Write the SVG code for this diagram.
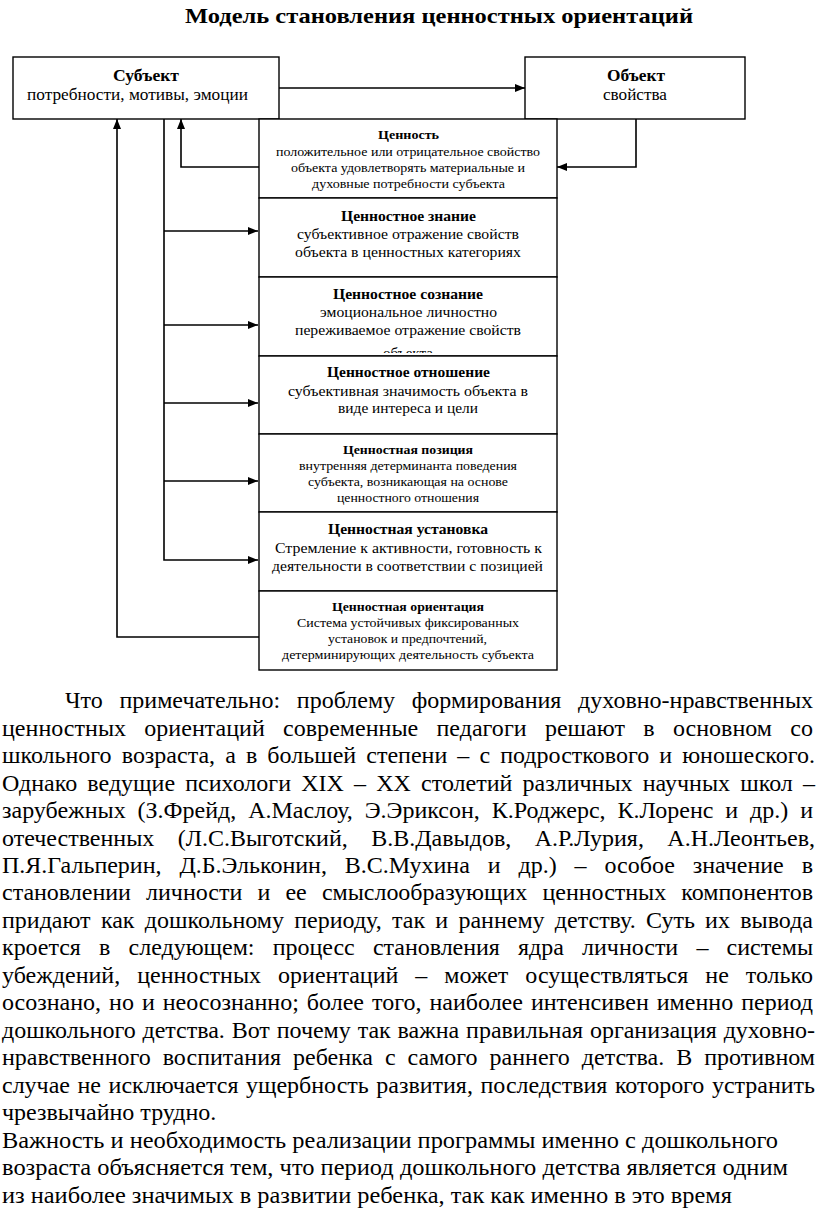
<svg xmlns="http://www.w3.org/2000/svg" width="816" height="1221" viewBox="0 0 816 1221">
<style>
.box{fill:#fff;stroke:#000;stroke-width:1.4}
.t{font-family:"Liberation Serif","Times New Roman",serif;fill:#000}
.b{font-weight:bold}
.s17{font-size:17px}
.s14{font-size:14.5px}
.s13{font-size:13px}
.conn{fill:none;stroke:#000;stroke-width:1.6}
.p{font-family:"Liberation Serif","Times New Roman",serif;font-size:24px;fill:#000}
</style>
<defs>
<marker id="arr" viewBox="0 0 10 8" refX="10" refY="4" markerWidth="10" markerHeight="8" markerUnits="userSpaceOnUse" orient="auto"><path d="M0,0 L10,4 L0,8 z" fill="#000"/></marker>
<clipPath id="cut"><rect x="259" y="277" width="298" height="76"/></clipPath>
</defs>

<text class="t b" x="185" y="23" font-size="22" textLength="508" lengthAdjust="spacingAndGlyphs">Модель становления ценностных ориентаций</text>

<g id="connectors">
<path class="conn" d="M279,88 H525" marker-end="url(#arr)"/>
<path class="conn" d="M636,119 V167 H557" marker-end="url(#arr)"/>
<path class="conn" d="M259,167 H181 V119" marker-end="url(#arr)"/>
<path class="conn" d="M259,637 H117 V119" marker-end="url(#arr)"/>
<path class="conn" d="M164,119 V560 H258" marker-end="url(#arr)"/>
<path class="conn" d="M164,231 H258" marker-end="url(#arr)"/>
<path class="conn" d="M164,325 H258" marker-end="url(#arr)"/>
<path class="conn" d="M164,403 H258" marker-end="url(#arr)"/>
<path class="conn" d="M164,481 H258" marker-end="url(#arr)"/>
</g>

<g id="subject">
<rect class="box" x="13" y="57" width="266" height="62"/>
<text class="t b s17" x="113" y="81" textLength="66" lengthAdjust="spacingAndGlyphs">Субъект</text>
<text class="t s17" x="27" y="100" textLength="221" lengthAdjust="spacingAndGlyphs">потребности, мотивы, эмоции</text>
</g>

<g id="object">
<rect class="box" x="525" y="57" width="220" height="62"/>
<text class="t b s17" x="607" y="81" textLength="58" lengthAdjust="spacingAndGlyphs">Объект</text>
<text class="t s17" x="603" y="100" textLength="64" lengthAdjust="spacingAndGlyphs">свойства</text>
</g>

<g id="value">
<rect class="box" x="259" y="119" width="298" height="79"/>
<text class="t b s13" x="378" y="139" textLength="61" lengthAdjust="spacingAndGlyphs">Ценность</text>
<text class="t s13" x="276" y="156" textLength="264" lengthAdjust="spacingAndGlyphs">положительное или отрицательное свойство</text>
<text class="t s13" x="291" y="172" textLength="234" lengthAdjust="spacingAndGlyphs">объекта удовлетворять материальные и</text>
<text class="t s13" x="312" y="188" textLength="193" lengthAdjust="spacingAndGlyphs">духовные потребности субъекта</text>
</g>

<g id="value-knowledge">
<rect class="box" x="259" y="198" width="298" height="79"/>
<text class="t b s14" x="341" y="221" textLength="135" lengthAdjust="spacingAndGlyphs">Ценностное знание</text>
<text class="t s14" x="297" y="239" textLength="222" lengthAdjust="spacingAndGlyphs">субъективное отражение свойств</text>
<text class="t s14" x="295" y="257" textLength="226" lengthAdjust="spacingAndGlyphs">объекта в ценностных категориях</text>
</g>

<g id="value-consciousness">
<rect class="box" x="259" y="277" width="298" height="79"/>
<text class="t b s14" x="333" y="299" textLength="150" lengthAdjust="spacingAndGlyphs">Ценностное сознание</text>
<text class="t s14" x="320" y="317" textLength="177" lengthAdjust="spacingAndGlyphs">эмоциональное личностно</text>
<text class="t s14" x="295" y="335" textLength="226" lengthAdjust="spacingAndGlyphs">переживаемое отражение свойств</text>
<text class="t s14" x="383" y="358" textLength="50" lengthAdjust="spacingAndGlyphs" clip-path="url(#cut)">объекта</text>
</g>

<g id="value-attitude">
<rect class="box" x="259" y="356" width="298" height="78"/>
<text class="t b s14" x="327" y="377" textLength="163" lengthAdjust="spacingAndGlyphs">Ценностное отношение</text>
<text class="t s14" x="288" y="396" textLength="240" lengthAdjust="spacingAndGlyphs">субъективная значимость объекта в</text>
<text class="t s14" x="338" y="413" textLength="140" lengthAdjust="spacingAndGlyphs">виде интереса и цели</text>
</g>

<g id="value-position">
<rect class="box" x="259" y="434" width="298" height="78"/>
<text class="t b s13" x="343" y="454" textLength="130" lengthAdjust="spacingAndGlyphs">Ценностная позиция</text>
<text class="t s13" x="299" y="470" textLength="218" lengthAdjust="spacingAndGlyphs">внутренняя детерминанта поведения</text>
<text class="t s13" x="308" y="486" textLength="200" lengthAdjust="spacingAndGlyphs">субъекта, возникающая на основе</text>
<text class="t s13" x="337" y="502" textLength="142" lengthAdjust="spacingAndGlyphs">ценностного отношения</text>
</g>

<g id="value-set">
<rect class="box" x="259" y="512" width="298" height="79"/>
<text class="t b s14" x="328" y="534" textLength="160" lengthAdjust="spacingAndGlyphs">Ценностная установка</text>
<text class="t s14" x="275" y="553" textLength="267" lengthAdjust="spacingAndGlyphs">Стремление к активности, готовность к</text>
<text class="t s14" x="272" y="571" textLength="271" lengthAdjust="spacingAndGlyphs">деятельности в соответствии с позицией</text>
</g>

<g id="value-orientation">
<rect class="box" x="259" y="591" width="298" height="79"/>
<text class="t b s13" x="332" y="611" textLength="152" lengthAdjust="spacingAndGlyphs">Ценностная ориентация</text>
<text class="t s13" x="297" y="627" textLength="222" lengthAdjust="spacingAndGlyphs">Система устойчивых фиксированных</text>
<text class="t s13" x="328" y="643" textLength="159" lengthAdjust="spacingAndGlyphs">установок и предпочтений,</text>
<text class="t s13" x="282" y="659" textLength="252" lengthAdjust="spacingAndGlyphs">детерминирующих деятельность субъекта</text>
</g>

<g id="paragraph">
<text class="p" x="65" y="708" word-spacing="10.75" textLength="748" lengthAdjust="spacing">Что примечательно: проблему формирования духовно-нравственных</text>
<text class="p" x="2" y="735.5" word-spacing="12.3" textLength="811" lengthAdjust="spacing">ценностных ориентаций современные педагоги решают в основном со</text>
<text class="p" x="2" y="763" word-spacing="4.1" textLength="813" lengthAdjust="spacing">школьного возраста, а в большей степени – с подросткового и юношеского.</text>
<text class="p" x="2" y="790.5" word-spacing="4.2" textLength="813" lengthAdjust="spacing">Однако ведущие психологи XIX – XX столетий различных научных школ –</text>
<text class="p" x="2" y="818" word-spacing="5.9" textLength="811" lengthAdjust="spacing">зарубежных (З.Фрейд, А.Маслоу, Э.Эриксон, К.Роджерс, К.Лоренс и др.) и</text>
<text class="p" x="2" y="845.5" word-spacing="17.5" textLength="813" lengthAdjust="spacing">отечественных (Л.С.Выготский, В.В.Давыдов, А.Р.Лурия, А.Н.Леонтьев,</text>
<text class="p" x="2" y="873" word-spacing="11.9" textLength="811" lengthAdjust="spacing">П.Я.Гальперин, Д.Б.Эльконин, В.С.Мухина и др.) – особое значение в</text>
<text class="p" x="2" y="900" word-spacing="9.2" textLength="811" lengthAdjust="spacing">становлении личности и ее смыслообразующих ценностных компонентов</text>
<text class="p" x="2" y="927.5" word-spacing="4.3" textLength="811" lengthAdjust="spacing">придают как дошкольному периоду, так и раннему детству. Суть их вывода</text>
<text class="p" x="2" y="955" word-spacing="12.25" textLength="811" lengthAdjust="spacing">кроется в следующем: процесс становления ядра личности – системы</text>
<text class="p" x="2" y="982.5" word-spacing="11" textLength="811" lengthAdjust="spacing">убеждений, ценностных ориентаций – может осуществляться не только</text>
<text class="p" x="2" y="1010" word-spacing="2" textLength="811" lengthAdjust="spacing">осознано, но и неосознанно; более того, наиболее интенсивен именно период</text>
<text class="p" x="2" y="1037.5" word-spacing="0.9" textLength="813" lengthAdjust="spacing">дошкольного детства. Вот почему так важна правильная организация духовно-</text>
<text class="p" x="2" y="1065" word-spacing="5.9" textLength="813" lengthAdjust="spacing">нравственного воспитания ребенка с самого раннего детства. В противном</text>
<text class="p" x="2" y="1092.5" word-spacing="1.6" textLength="813" lengthAdjust="spacing">случае не исключается ущербность развития, последствия которого устранить</text>
<text class="p" x="2" y="1120">чрезвычайно трудно.</text>
<text class="p" x="2" y="1147.5" textLength="776" lengthAdjust="spacingAndGlyphs">Важность и необходимость реализации программы именно с дошкольного</text>
<text class="p" x="2" y="1175" textLength="786" lengthAdjust="spacingAndGlyphs">возраста объясняется тем, что период дошкольного детства является одним</text>
<text class="p" x="2" y="1202.5" textLength="730" lengthAdjust="spacingAndGlyphs">из наиболее значимых в развитии ребенка, так как именно в это время</text>
</g>
</svg>
